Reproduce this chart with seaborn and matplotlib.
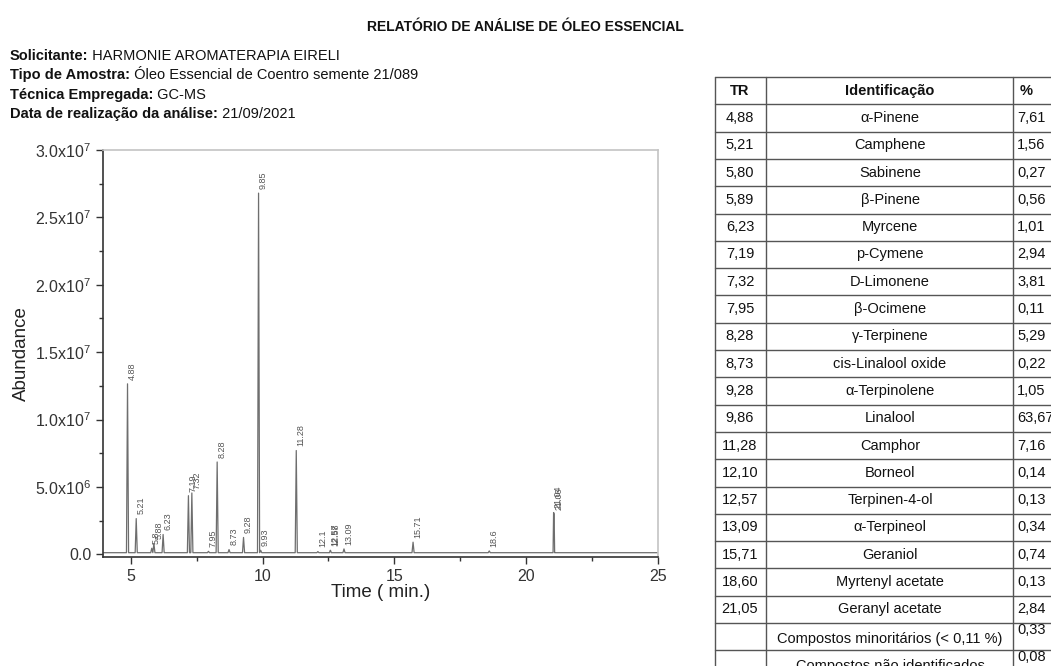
import numpy as np
import pandas as pd
import matplotlib
matplotlib.use("Agg")
import matplotlib.pyplot as plt
from matplotlib.lines import Line2D
from matplotlib.ticker import MultipleLocator
import seaborn as sns

# Report header
title = "RELATÓRIO DE ANÁLISE DE ÓLEO ESSENCIAL"
info_bold = ["Solicitante:", "Tipo de Amostra:", "Técnica Empregada:", "Data de realização da análise:"]
info_text = ["HARMONIE AROMATERAPIA EIRELI", "Óleo Essencial de Coentro semente 21/089",
             "GC-MS", "21/09/2021"]

# Chromatogram peaks (time in min, abundance, label printed above the peak)
peak_times = [4.88, 5.21, 5.80, 5.88, 6.23, 7.19, 7.32, 7.95, 8.28, 8.73, 9.28, 9.85, 9.93,
              11.28, 12.10, 12.57, 12.58, 13.09, 15.71, 18.60, 21.04, 21.06]
peak_heights = [12.65e6, 2.65e6, 0.45e6, 0.8e6, 1.47e6, 4.35e6, 4.55e6, 0.22e6, 6.85e6, 0.35e6,
                1.25e6, 26.8e6, 0.3e6, 7.7e6, 0.2e6, 0.3e6, 0.28e6, 0.4e6, 0.9e6, 0.25e6,
                3.1e6, 3.0e6]
peak_labels = ["4.88", "5.21", "5.8", "5.88", "6.23", "7.19", "7.32", "7.95", "8.28", "8.73",
               "9.28", "9.85", "9.93", "11.28", "12.1", "12.57", "12.58", "13.09", "15.71",
               "18.6", "21.04", "21.06"]
baseline = 1.2e5
peak_halfwidth = 0.04

x_ticks = [5, 10, 15, 20, 25]
y_ticks = [0, 5e6, 1e7, 1.5e7, 2e7, 2.5e7, 3e7]
y_tick_labels = ["0.0", "5.0x10$^{6}$", "1.0x10$^{7}$", "1.5x10$^{7}$", "2.0x10$^{7}$",
                 "2.5x10$^{7}$", "3.0x10$^{7}$"]

# Results table
table_header = ["TR", "Identificação", "%"]
tr_values = ["4,88", "5,21", "5,80", "5,89", "6,23", "7,19", "7,32", "7,95", "8,28", "8,73",
             "9,28", "9,86", "11,28", "12,10", "12,57", "13,09", "15,71", "18,60", "21,05", "", ""]
compounds = ["α-Pinene", "Camphene", "Sabinene", "β-Pinene", "Myrcene", "p-Cymene", "D-Limonene",
             "β-Ocimene", "γ-Terpinene", "cis-Linalool oxide", "α-Terpinolene", "Linalool",
             "Camphor", "Borneol", "Terpinen-4-ol", "α-Terpineol", "Geraniol", "Myrtenyl acetate",
             "Geranyl acetate", "Compostos minoritários (< 0,11 %)", "Compostos não identificados"]
percents = ["7,61", "1,56", "0,27", "0,56", "1,01", "2,94", "3,81", "0,11", "5,29", "0,22",
            "1,05", "63,67", "7,16", "0,14", "0,13", "0,34", "0,74", "0,13", "2,84", "0,33", "0,08"]

sns.set_theme(style="ticks")
plt.rcParams["font.family"] = ["Liberation Sans", "DejaVu Sans"]
plt.rcParams["mathtext.fontset"] = "custom"
plt.rcParams["mathtext.rm"] = "Liberation Sans"
plt.rcParams["mathtext.default"] = "regular"

W, H = 1051, 666
fig = plt.figure(figsize=(W / 100, H / 100), dpi=100, facecolor="white")


def fx(px):
    return px / W


def fy(py):
    return 1 - py / H


# header texts
fig.text(fx(525), fy(27), title, fontsize=10, fontweight="bold", ha="center", va="center",
         color="#111")
renderer = fig.canvas.get_renderer()
for i, (b, t) in enumerate(zip(info_bold, info_text)):
    yy = fy(56 + i * 19.3)
    tb = fig.text(fx(10), yy, b, fontsize=10.5, fontweight="bold", va="center", color="#111")
    x1 = tb.get_window_extent(renderer).x1 / W
    fig.text(x1, yy, " " + t, fontsize=10.5, va="center", color="#111")

# chromatogram trace built from the peak list
xs = [3.95, 25.0]
ys = [baseline, baseline]
for t, h in zip(peak_times, peak_heights):
    xs += [t - peak_halfwidth, t, t + peak_halfwidth]
    ys += [baseline, h, baseline]
trace = pd.DataFrame({"time": xs, "abundance": ys}).sort_values("time")

ax = fig.add_axes([fx(103), fy(557), fx(658) - fx(103), fy(150) - fy(557)])
sns.lineplot(data=trace, x="time", y="abundance", ax=ax, color="#6e6e6e", linewidth=0.9,
             sort=False, estimator=None)

for t, h, lab in zip(peak_times, peak_heights, peak_labels):
    ax.annotate(lab, (t, h), xytext=(3.5, 3), textcoords="offset points", rotation=90,
                ha="center", va="bottom", fontsize=6.5, color="#555")

ax.set_xlim(3.95, 25)
ax.set_ylim(-2e5, 3.0e7)
ax.set_xticks(x_ticks)
ax.set_xticklabels([str(v) for v in x_ticks])
ax.set_yticks(y_ticks)
ax.set_yticklabels(y_tick_labels)
ax.xaxis.set_minor_locator(MultipleLocator(2.5))
ax.yaxis.set_minor_locator(MultipleLocator(2.5e6))
ax.tick_params(which="major", direction="out", length=5, width=1, colors="#333",
               labelsize=11.5, labelcolor="#333")
ax.tick_params(which="minor", direction="out", length=3, width=1, colors="#333")
ax.set_xlabel("Time ( min.)", fontsize=13.5, color="#222", labelpad=0)
ax.set_ylabel("Abundance", fontsize=13.5, color="#222", labelpad=4)
for side in ["left", "bottom"]:
    ax.spines[side].set_color("#333")
    ax.spines[side].set_linewidth(1.2)
for side in ["top", "right"]:
    ax.spines[side].set_visible(True)
    ax.spines[side].set_color("#c4c4c4")
    ax.spines[side].set_linewidth(1.2)
ax.set_facecolor("white")

# results table
col_x = [715, 766, 1013]
top = 77
row_h = 27.3
n_rows = len(compounds) + 1
line_kw = dict(color="#555", linewidth=1.0)
y_lines = [top + i * row_h for i in range(n_rows + 1)]
for yl in y_lines:
    fig.add_artist(Line2D([fx(715), fx(1051)], [fy(yl), fy(yl)], **line_kw))
for xl in col_x:
    fig.add_artist(Line2D([fx(xl), fx(xl)], [fy(top), fy(H + 5)], **line_kw))

tfs = 10.5
hy = fy(top + row_h / 2)
fig.text(fx(740), hy, table_header[0], fontsize=tfs, fontweight="bold", ha="center",
         va="center", color="#111")
fig.text(fx(890), hy, table_header[1], fontsize=tfs, fontweight="bold", ha="center",
         va="center", color="#111")
fig.text(fx(1020), hy, table_header[2], fontsize=tfs, fontweight="bold", ha="left",
         va="center", color="#111")

for i, (tr, comp, pc) in enumerate(zip(tr_values, compounds, percents)):
    cy = top + (i + 1) * row_h + row_h / 2
    fig.text(fx(740), fy(cy), tr, fontsize=tfs, ha="center", va="center", color="#111")
    if tr:
        fig.text(fx(890), fy(cy), comp, fontsize=tfs, ha="center", va="center", color="#111")
        fig.text(fx(1017), fy(cy), pc, fontsize=tfs, ha="left", va="center", color="#111")
    else:
        fig.text(fx(890), fy(cy + 2), comp, fontsize=tfs, ha="center", va="center",
                 color="#111")
        fig.text(fx(1017), fy(cy - 7), pc, fontsize=tfs, ha="left", va="center", color="#111")

fig.savefig("out.png", dpi=100, facecolor="white")
